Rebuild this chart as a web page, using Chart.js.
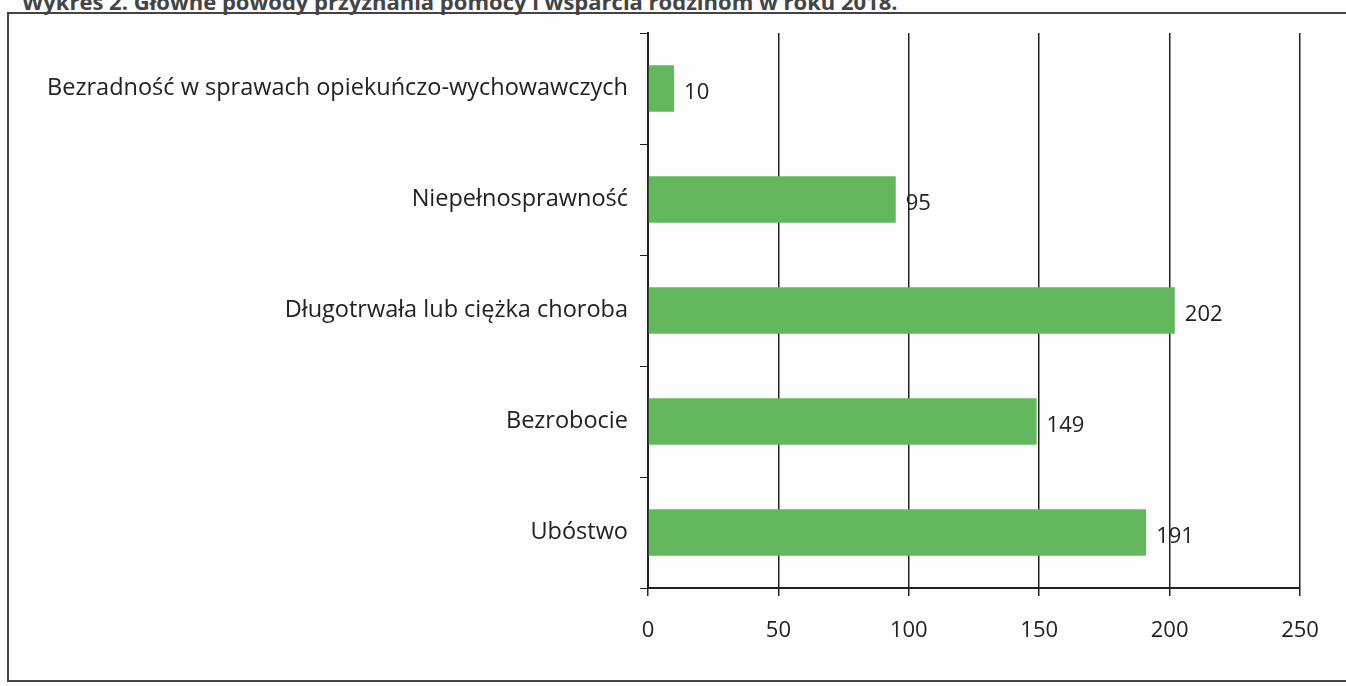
<!DOCTYPE html>
<html lang="pl">
<head>
<meta charset="UTF-8" />
<title>Główne powody przyznania pomocy</title>
<script src="https://cdn.jsdelivr.net/npm/chart.js"></script>
<style>
  body { margin:0; background:#fdfdfd; width:1346px; height:686px; overflow:hidden; position:relative; font-family:"Open Sans", sans-serif; }
  .title { position:absolute; left:22px; top:-14px; font-size:22px; font-weight:bold; color:#444; white-space:nowrap; }
  .frame { position:absolute; left:7px; top:12px; width:1345px; height:666px; border:2px solid #444; border-right:none; }
  #wrap { position:absolute; left:0; top:0; width:1346px; height:686px; }
</style>
</head>
<body>
<div class="title">Wykres 2. Główne powody przyznania pomocy i wsparcia rodzinom w roku 2018.</div>
<div class="frame"></div>
<div id="wrap"><canvas id="chart"></canvas></div>

<script>
const categories = [
  "Bezradność w sprawach opiekuńczo-wychowawczych",
  "Niepełnosprawność",
  "Długotrwała lub ciężka choroba",
  "Bezrobocie",
  "Ubóstwo"
];
const values = [10, 95, 202, 149, 191];
const xTicks = [0, 50, 100, 150, 200, 250];

const fontFamily = '"Open Sans", sans-serif';

// value labels next to bars
const valueLabels = {
  id: 'valueLabels',
  afterDatasetsDraw(chart) {
    const ctx = chart.ctx;
    const meta = chart.getDatasetMeta(0);
    ctx.save();
    ctx.font = '22px ' + fontFamily;
    ctx.fillStyle = '#222';
    ctx.textBaseline = 'middle';
    meta.data.forEach((bar, i) => {
      ctx.fillText(String(values[i]), bar.x + 10, bar.y + 4);
    });
    ctx.restore();
  }
};

new Chart(document.getElementById('chart'), {
  type: 'bar',
  data: {
    labels: categories,
    datasets: [{
      data: values,
      backgroundColor: '#63b75c',
      barPercentage: 0.42,
      categoryPercentage: 1
    }]
  },
  options: {
    indexAxis: 'y',
    responsive: true,
    maintainAspectRatio: false,
    animation: false,
    layout: { padding: { left: 0, top: 33, right: 46, bottom: 0 } },
    plugins: { legend: { display: false }, tooltip: { enabled: false } },
    scales: {
      x: {
        min: 0, max: 250,
        afterBuildTicks(scale) { scale.ticks = xTicks.map(v => ({ value: v })); },
        afterFit(scale) { scale.height = 98; },
        grid: { color: '#222', lineWidth: 1.5, tickLength: 8, drawTicks: true },
        border: { color: '#222', width: 2 },
        ticks: { color: '#222', font: { size: 22, family: fontFamily }, padding: 22 }
      },
      y: {
        afterFit(scale) { scale.width = 648; },
        grid: { offset: true, drawOnChartArea: false, color: '#222', tickLength: 8 },
        border: { color: '#222', width: 2 },
        ticks: { color: '#222', font: { size: 23.5, family: fontFamily }, padding: 12 }
      }
    }
  },
  plugins: [valueLabels]
});
</script>
</body>
</html>
